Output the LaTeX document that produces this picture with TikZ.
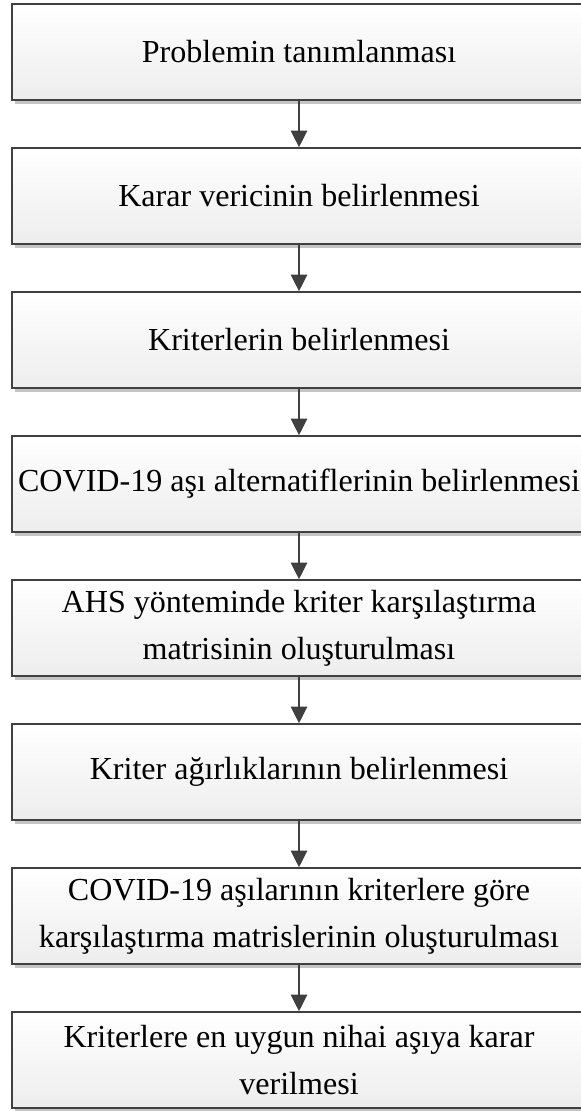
\documentclass[tikz,border=0pt]{standalone}
\usepackage{fontspec}
\setmainfont{Liberation Serif}
\usepackage{xcolor}
\usetikzlibrary{arrows.meta,shadows}

\definecolor{edgegray}{HTML}{404040}
\definecolor{shadowgray}{HTML}{C4C4C4}

\begin{document}
\begin{tikzpicture}[x=0.025cm, y=-0.025cm,
    stepbox/.style={draw=edgegray, line width=0.9pt, top color=white, bottom color=black!7,
      minimum width=14.35cm, minimum height=2.4cm, inner sep=0pt, align=center,
      font=\fontsize{22.8}{33.4}\selectfont,
      drop shadow={shadow xshift=0.08cm, shadow yshift=-0.1cm, fill=shadowgray, opacity=1}},
    flow/.style={-{Triangle[width=0.4cm, length=0.42cm]}, draw=edgegray, line width=2pt}]
    \useasboundingbox (0,0) rectangle (580,1111);

    % Steps
    \node[stepbox] (prob) at (299, 52) {Problemin tanımlanması};
    \node[stepbox] (karar) at (299, 196) {Karar vericinin belirlenmesi};
    \node[stepbox] (krit) at (299, 340) {Kriterlerin belirlenmesi};
    \node[stepbox] (alt) at (299, 484) {COVID-19 aşı alternatiflerinin belirlenmesi};
    \node[stepbox] (ahs) at (299, 628) {AHS yönteminde kriter karşılaştırma\\matrisinin oluşturulması};
    \node[stepbox] (agir) at (299, 772) {Kriter ağırlıklarının belirlenmesi};
    \node[stepbox] (asi) at (299, 916) {COVID-19 aşılarının kriterlere göre\\karşılaştırma matrislerinin oluşturulması};
    \node[stepbox] (son) at (299, 1060) {Kriterlere en uygun nihai aşıya karar\\verilmesi};

    % Arrows
    \draw[flow] (prob) -- (karar);
    \draw[flow] (karar) -- (krit);
    \draw[flow] (krit) -- (alt);
    \draw[flow] (alt) -- (ahs);
    \draw[flow] (ahs) -- (agir);
    \draw[flow] (agir) -- (asi);
    \draw[flow] (asi) -- (son);
\end{tikzpicture}
\end{document}
